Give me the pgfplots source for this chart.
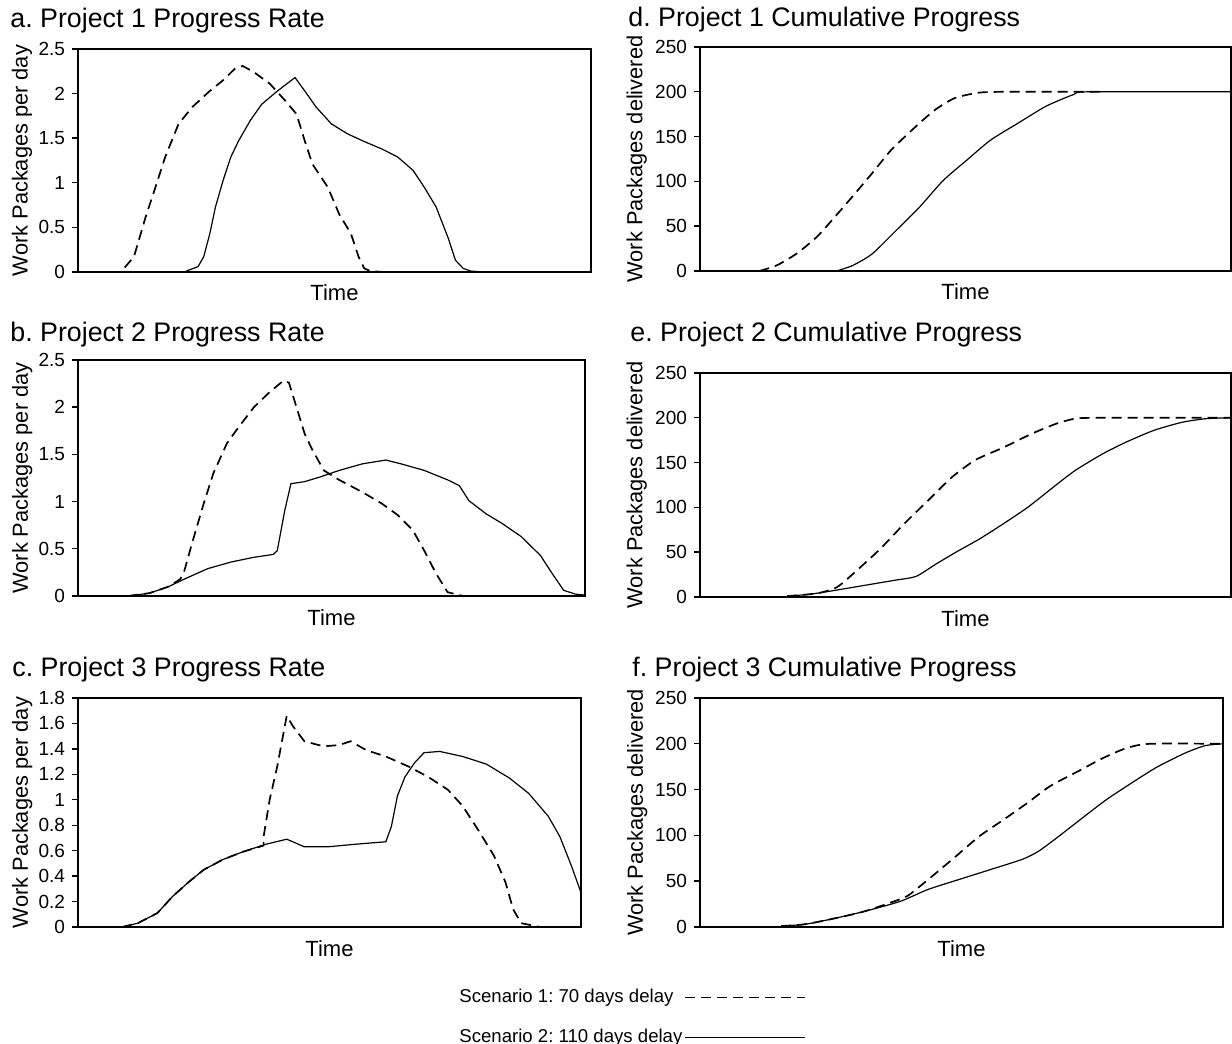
\documentclass[border=0pt]{standalone}
\usepackage{fontspec}
\setmainfont{Liberation Sans}
\usepackage{pgfplots}
\pgfplotsset{compat=1.18}
\pgfplotsset{
  panel/.style={
    scale only axis, xmin=0, xmax=100, xtick=\empty,
    ytick pos=left, tick align=outside, major tick length=3pt,
    axis line style={line width=0.8pt},
    every tick/.style={black, line width=0.7pt},
    tick label style={font=\fontsize{9.5}{10}\selectfont},
    /pgf/number format/assume math mode=true,
    xlabel={Time},
    xlabel style={font=\fontsize{11}{12}\selectfont, at={(axis description cs:0.5,0)}, anchor=north, yshift=-3pt},
    ylabel style={font=\fontsize{10.9}{12}\selectfont, anchor=center},
  },
  dsh/.style={black, line width=0.85pt, dash pattern=on 5pt off 3pt},
  sld/.style={black, line width=0.6pt},
}
\newcommand{\ttl}[1]{\fontsize{13.4}{15}\selectfont #1}
\begin{document}
\frenchspacing
\begin{tikzpicture}
\useasboundingbox (0,0) rectangle (616pt,522pt);
% titles
\node[anchor=base west, inner sep=0pt] at (5pt,508pt) {\ttl{a. Project 1 Progress Rate}};
\node[anchor=base west, inner sep=0pt] at (5pt,351pt) {\ttl{b. Project 2 Progress Rate}};
\node[anchor=base west, inner sep=0pt] at (6pt,183.5pt) {\ttl{c. Project 3 Progress Rate}};
\node[anchor=base west, inner sep=0pt] at (314pt,508.5pt) {\ttl{d. Project 1 Cumulative Progress}};
\node[anchor=base west, inner sep=0pt] at (315pt,351pt) {\ttl{e. Project 2 Cumulative Progress}};
\node[anchor=base west, inner sep=0pt] at (316pt,183.5pt) {\ttl{f. Project 3 Cumulative Progress}};

% ---------- a ----------
\begin{axis}[panel, at={(39pt,386pt)}, anchor=south west, width=256.5pt, height=111.5pt,
  ymin=0, ymax=2.5, ytick={0,0.5,1,1.5,2,2.5}, yticklabels={0,0.5,1,1.5,2,2.5},
  ylabel={Work Packages per day}, ylabel style={at={(axis description cs:-0.109,0.5)}}]
\addplot[dsh] coordinates {(9.1,0.05) (10.9,0.17) (13.2,0.62) (14.7,0.88) (17.0,1.29) (19.6,1.66) (22.3,1.85) (25.7,2.03) (28.3,2.15) (30.6,2.28) (32.1,2.31) (34.3,2.24) (37.4,2.11) (40.4,1.92) (42.6,1.77) (44.2,1.47) (45.7,1.21) (48.7,0.95) (50.9,0.65) (53.2,0.43) (54.7,0.17) (55.8,0.04) (57.0,0.01) (59.6,0.0)};
\addplot[sld] coordinates {(21.1,0.01) (23.4,0.06) (24.5,0.17) (25.7,0.43) (26.8,0.73) (28.3,1.03) (29.8,1.29) (31.3,1.47) (33.6,1.70) (35.8,1.88) (38.9,2.03) (42.3,2.18) (44.2,2.03) (46.4,1.85) (49.4,1.66) (52.5,1.55) (55.5,1.47) (59.2,1.38) (62.3,1.29) (65.3,1.14) (67.5,0.95) (69.8,0.73) (72.1,0.39) (73.6,0.13) (75.1,0.04) (76.6,0.01) (78.9,0)};
\end{axis}

% ---------- b ----------
\begin{axis}[panel, at={(39pt,224pt)}, anchor=south west, width=253.5pt, height=118pt,
  ymin=0, ymax=2.5, ytick={0,0.5,1,1.5,2,2.5}, yticklabels={0,0.5,1,1.5,2,2.5},
  ylabel={Work Packages per day}, ylabel style={at={(axis description cs:-0.110,0.5)}}]
\addplot[dsh] coordinates {(9.9,0) (14.1,0.03) (17.9,0.10) (20.2,0.18) (21.0,0.27) (22.5,0.56) (24.8,0.98) (26.7,1.30) (29.4,1.62) (31.7,1.79) (34.7,2.00) (37.8,2.16) (40.5,2.28) (41.6,2.26) (43.1,2.00) (44.7,1.72) (46.2,1.55) (48.5,1.33) (51.5,1.23) (56.1,1.10) (59.9,0.98) (63.0,0.86) (66.0,0.70) (68.3,0.48) (70.6,0.24) (72.9,0.04) (76.0,0.0)};
\addplot[sld] coordinates {(9.9,0) (14.1,0.03) (17.9,0.10) (21.0,0.18) (25.6,0.29) (30.2,0.36) (34.7,0.41) (38.5,0.44) (39.3,0.48) (40.8,0.91) (42.0,1.19) (44.6,1.21) (47.7,1.26) (51.5,1.33) (56.1,1.40) (60.7,1.44) (63.7,1.40) (68.3,1.33) (72.9,1.23) (75.2,1.17) (77.1,1.01) (80.5,0.87) (83.6,0.77) (87.4,0.63) (91.2,0.43) (93.5,0.24) (95.8,0.06) (98.1,0.02) (100,0.01)};
\end{axis}

% ---------- c ----------
\begin{axis}[panel, at={(39pt,58.5pt)}, anchor=south west, width=251.5pt, height=114.5pt,
  ymin=0, ymax=1.8, ytick={0,0.2,0.4,0.6,0.8,1,1.2,1.4,1.6,1.8}, yticklabels={0,0.2,0.4,0.6,0.8,1,1.2,1.4,1.6,1.8},
  ylabel={Work Packages per day}, ylabel style={at={(axis description cs:-0.111,0.5)}},
  legend plot pos=right, legend cell align=left,
  legend style={at={(axis description cs:0.7535,-0.262)}, anchor=north west, draw=none, fill=none,
    inner sep=0pt, row sep=9.5pt, font=\fontsize{9.3}{10}\selectfont, nodes={inner sep=1pt}},
  legend image code/.code={\draw[#1] (0pt,0pt) -- (60pt,0pt);}]
\addplot[dsh] coordinates {(8.8,0.0) (11.9,0.03) (15.8,0.11) (18.8,0.24) (21.9,0.35) (25.0,0.45) (28.8,0.53) (32.7,0.59) (36.9,0.64) (36.9,0.71) (38.1,1.00) (39.6,1.26) (41.5,1.66) (42.7,1.58) (45.0,1.46) (48.8,1.42) (51.9,1.43) (54.2,1.46) (57.3,1.39) (61.2,1.34) (65.8,1.26) (69.6,1.18) (73.5,1.08) (76.5,0.95) (79.6,0.76) (82.7,0.56) (85.0,0.35) (86.5,0.14) (88.1,0.03) (91.9,0.0)};
\addlegendentry{Scenario 1: 70 days delay}
\addplot[sld] coordinates {(8.8,0.0) (11.9,0.03) (15.8,0.11) (18.8,0.24) (21.9,0.35) (25.0,0.45) (28.8,0.53) (32.7,0.59) (37.3,0.65) (41.5,0.69) (42.7,0.67) (45.0,0.63) (49.6,0.63) (55.0,0.65) (61.2,0.67) (62.3,0.79) (63.5,1.03) (65.0,1.18) (66.9,1.29) (68.8,1.37) (71.9,1.38) (76.5,1.34) (81.2,1.28) (85.8,1.17) (89.6,1.05) (93.5,0.87) (95.8,0.71) (98.1,0.48) (100,0.27)};
\addlegendentry{Scenario 2: 110 days delay}
\end{axis}

% ---------- d ----------
\begin{axis}[panel, at={(350pt,386.5pt)}, anchor=south west, width=265.5pt, height=112pt,
  ymin=0, ymax=250, ytick={0,50,100,150,200,250},
  ylabel={Work Packages delivered}, ylabel style={at={(axis description cs:-0.119,0.5)}}]
\addplot[dsh, smooth, tension=0.4] coordinates {(11.2,0) (14.5,6.4) (18.2,19.4) (22.0,38) (24.9,57) (28.7,83) (32.4,109) (36.0,135) (40.6,161) (44.3,180) (48.0,193) (52.5,199) (57.7,200) (75.6,200)};
\addplot[sld, smooth, tension=0.4] coordinates {(25.7,0) (28.7,6) (32.4,19) (36.9,45) (41.3,71) (45.8,101) (50.3,124) (54.7,146) (59.9,165) (65.2,184) (70.4,197) (73.3,200) (100,200)};
\end{axis}

% ---------- e ----------
\begin{axis}[panel, at={(350pt,223.5pt)}, anchor=south west, width=265.5pt, height=112pt,
  ymin=0, ymax=250, ytick={0,50,100,150,200,250},
  ylabel={Work Packages delivered}, ylabel style={at={(axis description cs:-0.119,0.5)}}]
\addplot[dsh, smooth, tension=0.4] coordinates {(16.4,1) (22.0,4) (25.8,11) (29.6,30) (34.0,54) (38.5,82) (43.0,108) (47.5,134) (51.9,153) (57.2,167) (62.4,182) (66.9,193) (70.6,199) (75.1,200) (100,200)};
\addplot[sld, smooth, tension=0.4] coordinates {(16.4,1) (20.6,3) (25.0,7) (31.0,13) (37.0,19) (40.7,23) (44.5,37) (48.2,50) (52.7,65) (57.2,82) (61.7,100) (66.2,121) (70.6,141) (75.9,160) (80.3,173) (85.5,186) (90.8,195) (95.3,199) (99.8,200)};
\end{axis}

% ---------- f ----------
\begin{axis}[panel, at={(350pt,58.5pt)}, anchor=south west, width=261.5pt, height=114.5pt,
  ymin=0, ymax=250, ytick={0,50,100,150,200,250},
  ylabel={Work Packages delivered}, ylabel style={at={(axis description cs:-0.120,0.5)}}]
\addplot[dsh, smooth, tension=0.4] coordinates {(15.5,1) (20.1,3) (25.4,9) (31.4,17) (39.0,32) (41.3,41) (44.3,55) (48.9,77) (53.4,99) (58.0,117) (62.5,135) (67.0,154) (72.3,170) (76.9,184) (81.4,195) (86.0,200) (100,200)};
\addplot[sld, smooth, tension=0.4] coordinates {(15.5,1) (20.1,3) (25.4,9) (31.4,17) (38.3,28) (43.6,41) (49.6,52) (55.7,63) (61.7,74) (64.8,83) (68.6,99) (73.1,119) (77.7,139) (83.0,159) (87.5,175) (92.8,190) (96.6,198) (100,200)};
\end{axis}
\end{tikzpicture}
\end{document}
